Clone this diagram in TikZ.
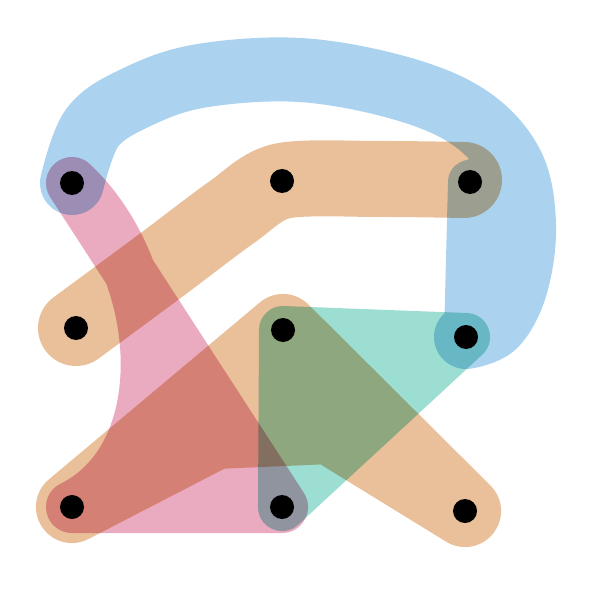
\documentclass[tikz,border=0pt]{standalone}
\usepackage{tikz}
\usetikzlibrary{backgrounds}
\definecolor{HyperBlue}{HTML}{ABD3F0}
\definecolor{HyperOrange}{HTML}{E9C09A}
\definecolor{HyperPink}{HTML}{EAABC1}
\definecolor{HyperTeal}{HTML}{9CDED2}
\begin{document}
\begin{tikzpicture}[
  x=1pt, y=-1pt,
  vertex/.style={circle, fill=black, inner sep=0pt, minimum size=24pt},
  band/.style={line cap=round, line join=round},
  blueband/.style={band, draw=HyperBlue, fill=HyperBlue},
  orangeband/.style={band, draw=HyperOrange, fill=HyperOrange},
  pinkband/.style={band, draw=HyperPink, fill=HyperPink},
  tealband/.style={band, draw=HyperTeal, fill=HyperTeal}
]
  \useasboundingbox (0,0) rectangle (598,601);

  % vertices
  \node[vertex] (A) at (72,183) {};
  \node[vertex] (B) at (282,181) {};
  \node[vertex] (C) at (470,182) {};
  \node[vertex] (D) at (76,328) {};
  \node[vertex] (E) at (283,330) {};
  \node[vertex] (F) at (466,337) {};
  \node[vertex] (G) at (72,507) {};
  \node[vertex] (H) at (282,507) {};
  \node[vertex] (I) at (465,511) {};

  \begin{scope}[on background layer]
  \begin{scope}[blend mode=multiply]
    % blue edge A, C, F
    \begin{scope}[transparency group]
      \draw[blueband, fill=none, line width=64pt] plot[smooth, tension=0.6]
        coordinates {(A.center) (92,128) (135,98) (200,76) (300,70) (400,88)
                     (470,118) (512,165) (524,225) (516,285) (495,325) (F.center)};
      \filldraw[blueband, line width=44pt]
        (C.center) -- (505,170) -- (515,300) -- (F.center) -- cycle;
    \end{scope}
    % orange edge D, B, C
    \begin{scope}[transparency group]
      \draw[orangeband, fill=none, line width=76pt] plot[smooth, tension=0.5]
        coordinates {(D.center) (160,266) (232,212) (B.center) (380,179) (464,180)};
    \end{scope}
    % orange edge G, E, I
    \begin{scope}[transparency group]
      \filldraw[orangeband, line width=72pt]
        (G.center) -- (E.center) -- (I.center) -- (330,428) -- (215,433) -- cycle;
    \end{scope}
    % pink edge A, G, H
    \begin{scope}[transparency group]
      \filldraw[pinkband, line width=52pt]
        (A.center) .. controls (165,270) and (178,455) .. (G.center)
        -- (H.center) -- cycle;
    \end{scope}
    % teal edge E, F, H
    \begin{scope}[transparency group]
      \filldraw[tealband, line width=48pt]
        (E.center) -- (F.center) -- (H.center) -- cycle;
    \end{scope}
  \end{scope}
  \end{scope}
\end{tikzpicture}
\end{document}
